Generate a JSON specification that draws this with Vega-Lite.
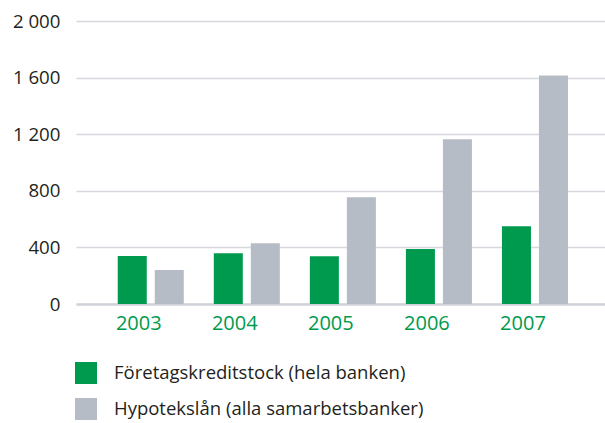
{
  "$schema": "https://vega.github.io/schema/vega-lite/v6.json",
  "autosize": {"type": "none"},
  "padding": {"left": 76, "top": 21, "right": 0, "bottom": 119},
  "width": 529,
  "height": 283,
  "background": "white",
  "config": {
    "font": "Open Sans",
    "view": {"stroke": null}
  },
  "data": {
    "values": [
      {"year": "2003", "series": "Företagskreditstock (hela banken)", "value": 339},
      {"year": "2003", "series": "Hypotekslån (alla samarbetsbanker)", "value": 240},
      {"year": "2004", "series": "Företagskreditstock (hela banken)", "value": 359},
      {"year": "2004", "series": "Hypotekslån (alla samarbetsbanker)", "value": 430},
      {"year": "2005", "series": "Företagskreditstock (hela banken)", "value": 338},
      {"year": "2005", "series": "Hypotekslån (alla samarbetsbanker)", "value": 755},
      {"year": "2006", "series": "Företagskreditstock (hela banken)", "value": 388},
      {"year": "2006", "series": "Hypotekslån (alla samarbetsbanker)", "value": 1165},
      {"year": "2007", "series": "Företagskreditstock (hela banken)", "value": 549},
      {"year": "2007", "series": "Hypotekslån (alla samarbetsbanker)", "value": 1615}
    ]
  },
  "mark": {"type": "bar"},
  "encoding": {
    "x": {
      "field": "year",
      "type": "nominal",
      "scale": {"paddingInner": 0.3125, "paddingOuter": 0.41, "align": 0.53},
      "axis": {
        "title": null,
        "labelAngle": 0,
        "labelColor": "#009A4E",
        "labelFontSize": 20,
        "labelPadding": 9,
        "labelOffset": -12,
        "ticks": false,
        "domain": true,
        "domainColor": "#CFD2D8",
        "domainWidth": 2.5,
        "grid": false
      }
    },
    "xOffset": {
      "field": "series",
      "type": "nominal",
      "scale": {"paddingInner": 0.216, "paddingOuter": 0}
    },
    "y": {
      "field": "value",
      "type": "quantitative",
      "scale": {"domain": [0, 2000], "nice": false},
      "axis": {
        "title": null,
        "values": [0, 400, 800, 1200, 1600, 2000],
        "labelExpr": "replace(format(datum.value, ','), ',', ' ')",
        "labelColor": "#231F20",
        "labelFontSize": 18.7,
        "labelPadding": 16,
        "ticks": false,
        "domain": false,
        "grid": true,
        "gridColor": "#D5D8DD",
        "gridWidth": 1.5
      }
    },
    "color": {
      "field": "series",
      "type": "nominal",
      "scale": {
        "domain": ["Företagskreditstock (hela banken)", "Hypotekslån (alla samarbetsbanker)"],
        "range": ["#009A4E", "#B6BCC6"]
      },
      "legend": {
        "title": null,
        "orient": "none",
        "legendX": -1,
        "legendY": 341,
        "direction": "vertical",
        "padding": 0,
        "rowPadding": 14,
        "symbolType": "square",
        "symbolSize": 484,
        "symbolStrokeWidth": 0,
        "labelOffset": 17,
        "labelFontSize": 18.5,
        "labelColor": "#231F20",
        "labelLimit": 500
      }
    }
  }
}
